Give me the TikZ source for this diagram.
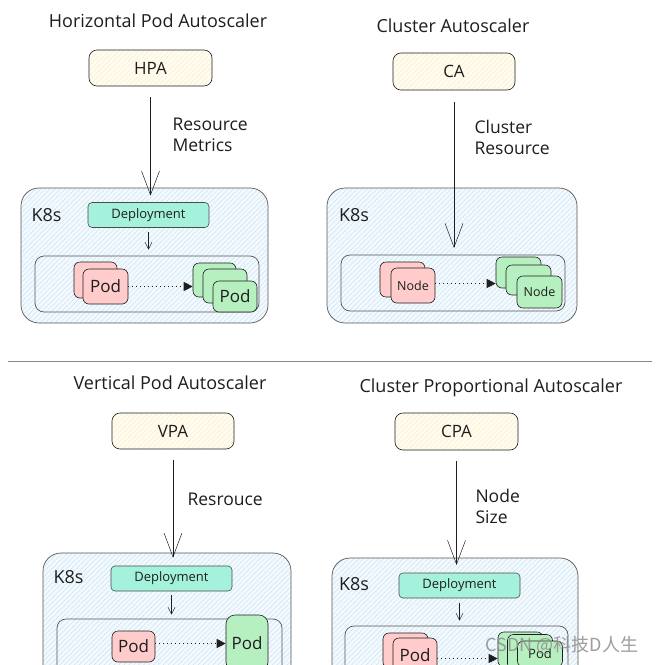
\documentclass[tikz,border=0pt]{standalone}
\usepackage{fontspec}
\setmainfont{Open Sans}
\newfontfamily\cjkfont{Noto Sans CJK SC}
\usetikzlibrary{arrows.meta,patterns.meta,calc}
\definecolor{ink}{HTML}{1E1E1E}
\definecolor{yellowbg}{HTML}{FFFDF3}
\definecolor{yellowline}{HTML}{FBEFC0}
\definecolor{bluebg}{HTML}{F4F9FD}
\definecolor{blueline}{HTML}{C9E4F6}
\definecolor{depfill}{HTML}{A5F2DC}
\definecolor{pinkfill}{HTML}{FFCBCB}
\definecolor{greenfill}{HTML}{B7F0C0}
\definecolor{sepgray}{HTML}{8A8A8A}
\begin{document}
\begin{tikzpicture}[x=1pt,y=-1pt,
  titletext/.style={text=ink,font=\fontsize{18}{22}\selectfont},
  lbl/.style={text=ink,font=\fontsize{17.5}{21}\selectfont,align=left,anchor=west},
  ctrl/.style={draw=ink,line width=0.6pt,rounded corners=8pt,
    preaction={fill=yellowbg},pattern={Lines[angle=45,distance=3.5pt,line width=0.5pt]},
    pattern color=yellowline,minimum width=123pt,minimum height=36pt,inner sep=0pt,
    text=ink,font=\fontsize{17}{20}\selectfont},
  k8sbox/.style={draw=ink!75,line width=0.7pt,rounded corners=18pt,
    preaction={fill=bluebg},pattern={Lines[angle=45,distance=3.5pt,line width=0.5pt]},
    pattern color=blueline,inner sep=0pt},
  k8stext/.style={text=ink,font=\fontsize{18}{20}\selectfont},
  inbox/.style={draw=ink!75,line width=0.7pt,rounded corners=9pt,inner sep=0pt},
  depbox/.style={draw=ink!80,line width=0.6pt,fill=depfill,rounded corners=4pt,
    minimum width=121pt,minimum height=25pt,inner sep=0pt,text=ink,font=\fontsize{13}{15}\selectfont},
  pinkbox/.style={draw=ink,line width=0.6pt,fill=pinkfill,rounded corners=6pt,inner sep=0pt,text=ink},
  greenbox/.style={draw=ink,line width=0.6pt,fill=greenfill,rounded corners=6pt,inner sep=0pt,text=ink},
  podtext/.style={font=\fontsize{17}{19}\selectfont},
  nodetext/.style={font=\fontsize{12.5}{14}\selectfont},
  bigarr/.style={draw=ink,line width=0.5pt,-{Straight Barb[length=24pt,width=18pt,line width=0.5pt]}},
  smallarr/.style={draw=ink,line width=0.5pt,-{Straight Barb[length=7pt,width=7pt,line width=0.5pt]}},
  dotarr/.style={draw=ink,line width=0.7pt,dash pattern=on 1pt off 3pt,-{Triangle[length=9pt,width=9pt]}}
]
\clip (0,0) rectangle (658,665);
\fill[white] (0,0) rectangle (658,665);

% ---------------- HPA ----------------
\node[titletext] (t1) at (158,21) {Horizontal Pod Autoscaler};
\node[ctrl] (hpa) at (150.5,68) {HPA};
\node[k8sbox,minimum width=247pt,minimum height=135pt] (k1) at (144.5,255.5) {};
\node[k8stext] (k1l) at (46.5,215) {K8s};
\node[depbox] (d1) at (148.5,215) {Deployment};
\node[inbox,minimum width=224pt,minimum height=56pt] (i1) at (147,284) {};
\node[pinkbox,minimum width=43pt,minimum height=36pt] (p1b) at (95.5,280) {};
\node[pinkbox,minimum width=45pt,minimum height=35pt,podtext] (p1f) at (105.5,286.5) {Pod};
\node[greenbox,minimum width=43pt,minimum height=34pt] (g1b) at (214.5,280) {};
\node[greenbox,minimum width=44pt,minimum height=34pt] (g1m) at (225,286) {};
\node[greenbox,minimum width=44pt,minimum height=31pt,podtext] (g1f) at (235,296.5) {Pod};
\draw[bigarr] ([yshift=-11pt]hpa.south) -- ([yshift=-8pt]hpa.south |- k1.north);
\node[lbl] (l1) at (169,134.5) {Resource\\Metrics};
\draw[smallarr] ([yshift=-4pt]d1.south) -- ([yshift=6pt]d1.south |- i1.north);
\draw[dotarr] (p1f.east) -- (p1f.east -| g1b.west);

% ---------------- CA ----------------
\node[titletext] (t2) at (453,26) {Cluster Autoscaler};
\node[ctrl,minimum width=122pt,minimum height=37pt] (ca) at (454,71.5) {CA};
\node[k8sbox,minimum width=250pt,minimum height=135pt] (k2) at (452,255.5) {};
\node[k8stext] (k2l) at (354,215) {K8s};
\node[inbox,minimum width=224pt,minimum height=56pt] (i2) at (453,283) {};
\node[pinkbox,minimum width=45pt,minimum height=35pt] (n2b) at (402.5,279.5) {};
\node[pinkbox,minimum width=44pt,minimum height=35pt,nodetext] (n2f) at (413,285.5) {Node};
\node[greenbox,minimum width=45pt,minimum height=31pt] (m2b) at (518.5,272.5) {};
\node[greenbox,minimum width=45pt,minimum height=30pt] (m2m) at (528.5,280) {};
\node[greenbox,minimum width=45pt,minimum height=32pt,nodetext] (m2f) at (539.5,292) {Node};
\coordinate (ca2end) at (455.5,248);
\draw[bigarr] ([yshift=-12pt]ca.south) -- (ca.south |- ca2end);
\node[lbl] (l2) at (471,137.5) {Cluster\\Resource};
\draw[dotarr] ([yshift=2pt]n2f.east) -- ([yshift=2pt]n2f.east -| m2b.west);

% ---------------- separator ----------------
\coordinate (sepL) at (8,361);
\coordinate (sepR) at (652,361);
\draw[sepgray,line width=0.9pt] (sepL) -- (sepR);

% ---------------- VPA ----------------
\node[titletext] (t3) at (170,383) {Vertical Pod Autoscaler};
\node[ctrl,minimum width=122pt] (vpa) at (173,431) {VPA};
\node[k8sbox,minimum width=248pt,minimum height=150pt] (k3) at (167,628) {};
\node[k8stext] (k3l) at (68.5,577) {K8s};
\node[depbox] (d3) at (171.5,578.5) {Deployment};
\node[inbox,minimum width=225pt,minimum height=70pt] (i3) at (169.5,654) {};
\node[pinkbox,minimum width=43pt,minimum height=31pt,podtext] (p3) at (133.5,646.5) {Pod};
\node[greenbox,minimum width=42pt,minimum height=56pt,rounded corners=9pt,podtext] (g3) at (247,643) {Pod};
\draw[bigarr] ([yshift=-11pt]vpa.south) -- ([yshift=-5pt]vpa.south |- k3.north);
\node[lbl] (l3) at (184,499) {Resrouce};
\draw[smallarr] ([yshift=-4pt]d3.south) -- ([yshift=4pt]d3.south |- i3.north);
\draw[dotarr] ([yshift=3pt]p3.east) -- ([yshift=3pt]p3.east -| g3.west);

% ---------------- CPA ----------------
\node[titletext] (t4) at (491,388) {Cluster Proportional Autoscaler};
\node[ctrl,minimum height=37pt] (cpa) at (456.5,431.5) {CPA};
\node[k8sbox,minimum width=246pt,minimum height=150pt] (k4) at (455,633) {};
\node[k8stext] (k4l) at (354,584) {K8s};
\node[depbox] (d4) at (459.5,585.5) {Deployment};
\node[inbox,minimum width=223pt,minimum height=70pt] (i4) at (456.5,661) {};
\node[pinkbox,minimum width=45pt,minimum height=35pt] (p4b) at (405.5,650.5) {};
\node[pinkbox,minimum width=44pt,minimum height=35pt,podtext] (p4f) at (415,655.5) {Pod};
\node[greenbox,minimum width=45pt,minimum height=35pt] (g4b) at (520.5,649.5) {};
\node[greenbox,minimum width=45pt,minimum height=35pt] (g4m) at (530,652) {};
\node[greenbox,minimum width=45pt,minimum height=26pt,font=\fontsize{13}{14}\selectfont] (g4f) at (540,654) {Pod};
\coordinate (cpaend) at (459,565);
\draw[bigarr] ([yshift=-11pt]cpa.south) -- (cpa.south |- cpaend);
\node[lbl] (l4) at (472,506.5) {Node\\Size};
\draw[smallarr] ([yshift=-5pt]d4.south) -- ([yshift=5pt]d4.south |- i4.north);
\draw[dotarr] ([yshift=-3pt]p4f.east) -- ([yshift=-3pt]p4f.east -| g4b.west);

% watermark
\node[text=black!45,font=\cjkfont\fontsize{18}{20}\selectfont,opacity=0.85] (wm) at (562,645) {CSDN @科技D人生};
\end{tikzpicture}
\end{document}
